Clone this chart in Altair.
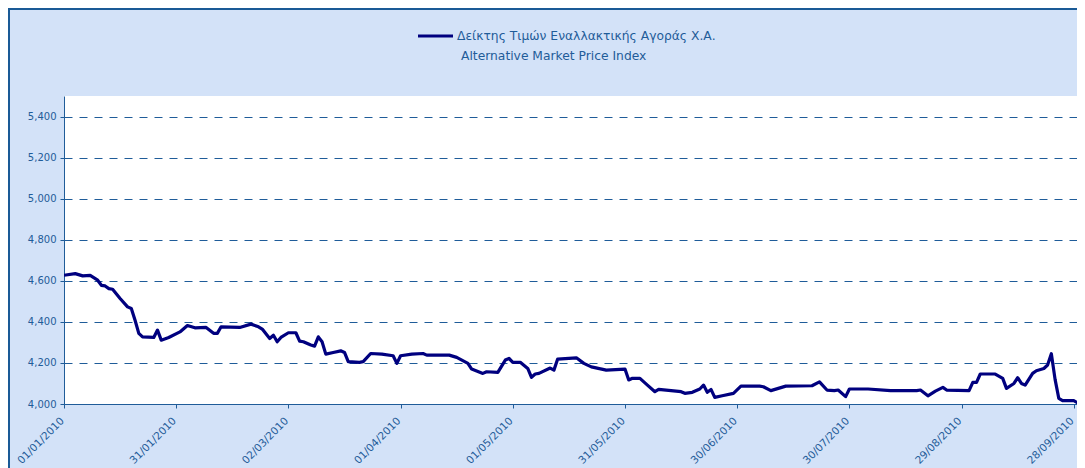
import altair as alt
import pandas as pd

series_name = ["Δείκτης Τιμών Εναλλακτικής Αγοράς Χ.Α.", "Alternative Market Price Index"]

dates = [
    "2010-01-01", "2010-01-04", "2010-01-06", "2010-01-08", "2010-01-10", "2010-01-11",
    "2010-01-12", "2010-01-13", "2010-01-14", "2010-01-16", "2010-01-18", "2010-01-19",
    "2010-01-20", "2010-01-21", "2010-01-22", "2010-01-25", "2010-01-26", "2010-01-27",
    "2010-01-29", "2010-02-01", "2010-02-03", "2010-02-05", "2010-02-08", "2010-02-10",
    "2010-02-11", "2010-02-12", "2010-02-17", "2010-02-20", "2010-02-22", "2010-02-23",
    "2010-02-25", "2010-02-26", "2010-02-27", "2010-02-28", "2010-03-02", "2010-03-04",
    "2010-03-05", "2010-03-06", "2010-03-08", "2010-03-09", "2010-03-10", "2010-03-11",
    "2010-03-12", "2010-03-14", "2010-03-16", "2010-03-17", "2010-03-18", "2010-03-21",
    "2010-03-22", "2010-03-24", "2010-03-27", "2010-03-30", "2010-03-31", "2010-04-01",
    "2010-04-04", "2010-04-07", "2010-04-08", "2010-04-14", "2010-04-16", "2010-04-19",
    "2010-04-20", "2010-04-23", "2010-04-24", "2010-04-27", "2010-04-29", "2010-04-30",
    "2010-05-01", "2010-05-03", "2010-05-05", "2010-05-06", "2010-05-07", "2010-05-08",
    "2010-05-11", "2010-05-12", "2010-05-13", "2010-05-18", "2010-05-20", "2010-05-22",
    "2010-05-26", "2010-05-31", "2010-06-01", "2010-06-02", "2010-06-04", "2010-06-06",
    "2010-06-08", "2010-06-09", "2010-06-15", "2010-06-16", "2010-06-18", "2010-06-20",
    "2010-06-21", "2010-06-22", "2010-06-23", "2010-06-24", "2010-06-26", "2010-06-29",
    "2010-07-01", "2010-07-06", "2010-07-07", "2010-07-09", "2010-07-11", "2010-07-13",
    "2010-07-20", "2010-07-22", "2010-07-24", "2010-07-26", "2010-07-27", "2010-07-29",
    "2010-07-30", "2010-08-04", "2010-08-10", "2010-08-17", "2010-08-18", "2010-08-20",
    "2010-08-22", "2010-08-24", "2010-08-25", "2010-08-31", "2010-09-01", "2010-09-02",
    "2010-09-03", "2010-09-07", "2010-09-09", "2010-09-10", "2010-09-12", "2010-09-13",
    "2010-09-14", "2010-09-15", "2010-09-17", "2010-09-18", "2010-09-20", "2010-09-21",
    "2010-09-22", "2010-09-23", "2010-09-24", "2010-09-25", "2010-09-28", "2010-09-29",
    "2010-10-01",
]

values = [
    4627, 4635, 4624, 4626, 4603, 4578,
    4575, 4562, 4559, 4514, 4473, 4465,
    4408, 4344, 4327, 4324, 4360, 4311,
    4324, 4351, 4382, 4371, 4373, 4344,
    4344, 4376, 4373, 4389, 4376, 4365,
    4319, 4335, 4303, 4324, 4347, 4347,
    4306, 4303, 4287, 4282, 4327, 4303,
    4243, 4251, 4259, 4251, 4206, 4203,
    4206, 4246, 4243, 4235, 4198, 4235,
    4243, 4246, 4238, 4238, 4227, 4198,
    4170, 4149, 4157, 4154, 4214, 4222,
    4203, 4203, 4173, 4130, 4146, 4149,
    4175, 4165, 4219, 4225, 4198, 4181,
    4165, 4170, 4117, 4125, 4125, 4092,
    4060, 4071, 4060, 4052, 4057, 4073,
    4092, 4057, 4071, 4032, 4040, 4052,
    4087, 4087, 4084, 4065, 4076, 4087,
    4089, 4108, 4068, 4065, 4068, 4036,
    4073, 4073, 4065, 4065, 4068, 4040,
    4063, 4081, 4068, 4065, 4105, 4105,
    4146, 4146, 4125, 4076, 4100, 4128,
    4100, 4092, 4149, 4162, 4173, 4190,
    4245, 4120, 4027, 4016, 4016, 4006,
    4006,
]

x_tick_labels = ["01/01/2010", "31/01/2010", "02/03/2010", "01/04/2010", "01/05/2010",
                 "31/05/2010", "30/06/2010", "30/07/2010", "29/08/2010", "28/09/2010"]
y_ticks = [4000, 4200, 4400, 4600, 4800, 5000, 5200, 5400]


def to_dt(lbl):
    d, m, y = map(int, lbl.split("/"))
    return alt.DateTime(year=y, month=m, date=d, utc=True)


df = pd.DataFrame({"date": dates, "value": values})

W, H = 1013, 308
BLUE = "#1F5C99"
NAVY = "#00007F"
FONT = "DejaVu Sans"

x_dom = [alt.DateTime(year=2010, month=1, date=1, utc=True),
         alt.DateTime(year=2010, month=9, date=28, hours=20, minutes=40, utc=True)]

line = alt.Chart(df).mark_line(color=NAVY, strokeWidth=3.2, clip=True, strokeJoin="round").encode(
    x=alt.X("date:T", scale=alt.Scale(type="utc", domain=x_dom),
            axis=alt.Axis(values=[to_dt(l) for l in x_tick_labels], format="%d/%m/%Y",
                          labelAngle=315, labelAlign="right", labelBaseline="middle",
                          grid=False, title=None, domainColor=BLUE,
                          tickColor=BLUE, tickSize=4, labelColor=BLUE, labelFont=FONT,
                          labelFontSize=10.5, labelPadding=11, labelOffset=-2,
                          labelOverlap=False, labelBound=False, labelFlush=False)),
    y=alt.Y("value:Q", scale=alt.Scale(domain=[4000, 5500], nice=False, zero=False),
            axis=alt.Axis(values=y_ticks, format=",d", grid=True, gridDash=[8, 7],
                          gridColor=BLUE, gridWidth=1, title=None, domainColor=BLUE,
                          tickColor=BLUE, tickSize=4, labelColor=BLUE, labelFont=FONT,
                          labelFontSize=10, labelPadding=4)),
)

one = alt.Data(values=[{}])

frame_top = alt.Chart(one).mark_rule(color="#1A5A96", strokeWidth=2).encode(
    x=alt.value(-56), x2=alt.value(W), y=alt.value(-87))
frame_left = alt.Chart(one).mark_rule(color="#1A5A96", strokeWidth=2).encode(
    x=alt.value(-55), y=alt.value(-88), y2=alt.value(H + 64))

leg_symbol = alt.Chart(one).mark_rule(color=NAVY, strokeWidth=3).encode(
    x=alt.value(354), x2=alt.value(389), y=alt.value(-60))
leg_text1 = alt.Chart(one).mark_text(align="left", baseline="middle", font=FONT,
                                     fontSize=12.3, color=BLUE).encode(
    x=alt.value(393), y=alt.value(-60), text=alt.value(series_name[0]))
leg_text2 = alt.Chart(one).mark_text(align="left", baseline="middle", font=FONT,
                                     fontSize=12.3, color=BLUE).encode(
    x=alt.value(397), y=alt.value(-40), text=alt.value(series_name[1]))

chart = alt.layer(line, frame_top, frame_left, leg_symbol, leg_text1, leg_text2).properties(
    width=W, height=H,
    autosize=alt.AutoSizeParams(type="none"),
    padding={"left": 56, "top": 88, "right": 0, "bottom": 64},
    background="#D3E2F8",
).configure_view(fill="white", stroke=None)

chart.save("out.html", embed_options={"renderer": "svg", "actions": False})
